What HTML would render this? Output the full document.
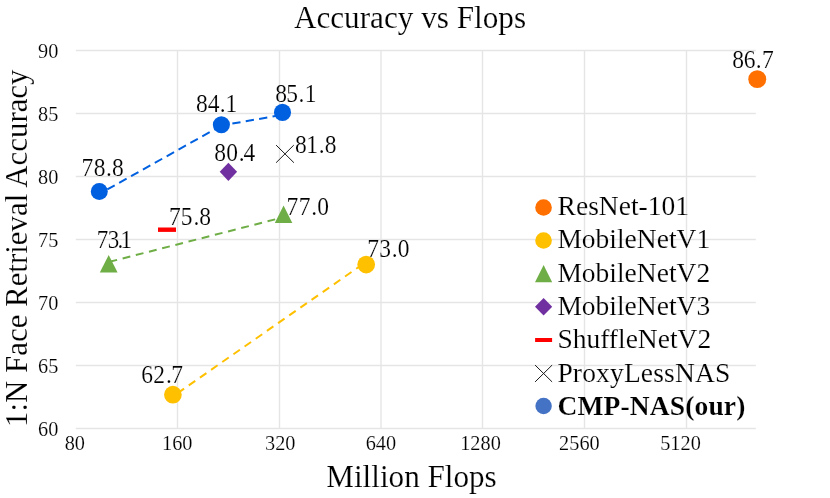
<!DOCTYPE html>
<html><head><meta charset="utf-8">
<style>
html,body{margin:0;padding:0;background:#fff;}
body{width:830px;height:498px;overflow:hidden;}
svg{display:block;will-change:transform;}
text{font-family:"Liberation Serif",serif;fill:#000;stroke:#fff;stroke-width:0.16px;}
.g{stroke:#e5e5e5;stroke-width:1.4;}
.tk{font-size:20.3px;}
.dl{font-size:23.5px;}
.lg{font-size:27.5px;}
</style></head><body>
<svg width="830" height="498" viewBox="0 0 830 498">
<rect width="830" height="498" fill="#fff"/>
<!-- grid -->
<g class="g">
<line x1="75.8" x2="755.8" y1="50.5" y2="50.5"/>
<line x1="75.8" x2="755.8" y1="113.5" y2="113.5"/>
<line x1="75.8" x2="755.8" y1="176.5" y2="176.5"/>
<line x1="75.8" x2="755.8" y1="239.5" y2="239.5"/>
<line x1="75.8" x2="755.8" y1="302.5" y2="302.5"/>
<line x1="75.8" x2="755.8" y1="365.5" y2="365.5"/>
<line x1="75.8" x2="755.8" y1="428.5" y2="428.5"/>
<line x1="177.5" x2="177.5" y1="50" y2="428.5"/>
<line x1="279.5" x2="279.5" y1="50" y2="428.5"/>
<line x1="381" x2="381" y1="50" y2="428.5"/>
<line x1="482.5" x2="482.5" y1="50" y2="428.5"/>
<line x1="584.5" x2="584.5" y1="50" y2="428.5"/>
<line x1="686.5" x2="686.5" y1="50" y2="428.5"/>
</g>
<!-- titles -->
<text x="293.9" y="27.7" font-size="31.2">Accuracy vs Flops</text>
<text x="411.5" y="487.4" font-size="31.15" text-anchor="middle">Million Flops</text>
<text transform="translate(26.5,426.96) rotate(-90)" font-size="30.88">1:N Face Retrieval Accuracy</text>
<!-- y ticks -->
<g class="tk" text-anchor="end">
<text x="58.3" y="57.6">90</text>
<text x="58.3" y="120.6">85</text>
<text x="58.3" y="183.6">80</text>
<text x="58.3" y="246.6">75</text>
<text x="58.3" y="309.6">70</text>
<text x="58.3" y="372.6">65</text>
<text x="58.3" y="435.6">60</text>
</g>
<g class="tk" text-anchor="middle">
<text x="74.8" y="450">80</text>
<text x="177.3" y="450">160</text>
<text x="280.2" y="450">320</text>
<text x="380.9" y="450">640</text>
<text x="480.5" y="450">1280</text>
<text x="579.4" y="450">2560</text>
<text x="680.5" y="450">5120</text>
</g>
<!-- lines -->
<g fill="none" stroke-width="2">
<line x1="99.5" y1="193.8" x2="221.5" y2="125.6" stroke="#0060e0" stroke-dasharray="8.5,5.1" stroke-dashoffset="4.67"/>
<line x1="221.5" y1="125.5" x2="282.5" y2="114.8" stroke="#0060e0" stroke-dasharray="8.3,5.3" stroke-dashoffset="2.6"/>
<line x1="108.7" y1="262.03" x2="283.5" y2="217.25" stroke="#6fae46" stroke-dasharray="7.9,5.7" stroke-dashoffset="12.82"/>
<line x1="172.9" y1="396.41" x2="366" y2="261.92" stroke="#ffc000" stroke-dasharray="7.9,5.7" stroke-dashoffset="7.85"/>
</g>
<!-- markers -->
<g fill="#0060e0">
<circle cx="99.3" cy="191.6" r="8.5"/><circle cx="221.4" cy="124.8" r="8.55"/><circle cx="282.5" cy="112.4" r="8.55"/>
</g>
<g fill="#ffc000"><circle cx="172.9" cy="394.65" r="8.85"/><circle cx="366.2" cy="264.6" r="8.85"/></g>
<circle cx="757.25" cy="79.15" r="8.95" fill="#ff7000"/>
<g fill="#6fae46"><path d="M108.7 254.9 L117.6 272.6 L99.8 272.6Z"/><path d="M283.55 205.5 L292.3 222.9 L274.8 222.9Z"/></g>
<path d="M228.4 162.8 L237.1 171.8 L228.4 180.9 L219.7 171.8Z" fill="#7030a0"/>
<rect x="158" y="227.5" width="18" height="4.4" fill="#ff0000"/>
<path d="M276.1 145.1 L293.9 162.7 M293.8 145.1 L276.1 162.7" stroke="#1a1a1a" stroke-width="1" fill="none"/>
<!-- data labels -->
<g class="dl">
<text transform="translate(0,175.75) scale(1,1.05)" x="81.40 93.86 106.10 111.90" y="0">78.8</text>
<text transform="translate(0,112.45) scale(1,1.05)" x="196.10 207.84 219.87 225.46" y="0">84.1</text>
<text transform="translate(0,102.45) scale(1,1.05)" x="275.18 286.25 298.50 304.67" y="0">85.1</text>
<text transform="translate(0,161.15) scale(1,1.05)" x="214.32 226.19 238.65 243.62" y="0">80.4</text>
<text transform="translate(0,152.75) scale(1,1.05)" x="295.00 306.26 318.72 324.87" y="0">81.8</text>
<text transform="translate(0,224.85) scale(1,1.05)" x="169.00 180.82 193.60 199.28" y="0">75.8</text>
<text transform="translate(0,247.80) scale(1,1.05)" x="96.82 107.70 117.46 120.53" y="0" font-size="23">73.1</text>
<text transform="translate(0,215.05) scale(1,1.05)" x="286.40 298.65 311.20 317.30" y="0">77.0</text>
<text transform="translate(0,257.25) scale(1,1.05)" x="367.20 379.36 391.73 397.70" y="0">73.0</text>
<text transform="translate(0,383.25) scale(1,1.05)" x="141.29 153.24 166.06 171.28" y="0">62.7</text>
<text transform="translate(0,67.75) scale(1,1.05)" x="732.18 743.84 755.79 761.88" y="0">86.7</text>
</g>
<!-- legend -->
<circle cx="543.55" cy="207.5" r="8.3" fill="#ff7000"/>
<circle cx="543.55" cy="240.5" r="8.3" fill="#ffc000"/>
<path d="M543.6 265 L552.2 282.2 L535 282.2Z" fill="#6fae46"/>
<path d="M543.6 298.1 L552.2 306.85 L543.6 315.6 L535 306.85Z" fill="#7030a0"/>
<rect x="535.1" y="338" width="17" height="4" fill="#ff0000"/>
<path d="M535.1 365.1 L552.1 381.9 M552.1 365.1 L535.1 381.9" stroke="#1a1a1a" stroke-width="1" fill="none"/>
<circle cx="543.6" cy="406" r="8.2" fill="#4472c4"/>
<g class="lg">
<text x="557.6" y="215.2">ResNet-101</text>
<text x="557.4" y="248.4">MobileNetV1</text>
<text x="557.4" y="281.9">MobileNetV2</text>
<text x="557.4" y="314.8">MobileNetV3</text>
<text x="557.4" y="348.2">ShuffleNetV2</text>
<text x="557.4" y="381.6" textLength="172.9" lengthAdjust="spacing">ProxyLessNAS</text>
<text x="557.4" y="415.1" font-weight="bold" textLength="188" lengthAdjust="spacing">CMP-NAS(our)</text>
</g>
</svg>
</body></html>
